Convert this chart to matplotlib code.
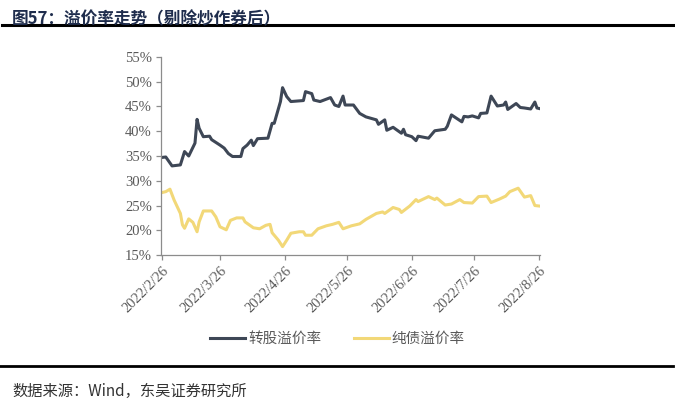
import matplotlib
matplotlib.use('Agg')
import matplotlib.pyplot as plt
from matplotlib.lines import Line2D
import pandas as pd

# 转股溢价率 (%)
conv_dates = ['02-26', '02-28', '03-03', '03-07', '03-09', '03-11', '03-14', '03-15', '03-16',
              '03-18', '03-21', '03-22', '03-26', '03-28', '03-30', '04-01', '04-05', '04-06',
              '04-08', '04-10', '04-11', '04-13', '04-18', '04-20', '04-21', '04-24', '04-25',
              '04-27', '04-29', '05-05', '05-06', '05-09', '05-10', '05-13', '05-18', '05-20',
              '05-22', '05-24', '05-25', '05-29', '06-01', '06-04', '06-09', '06-10', '06-13',
              '06-14', '06-17', '06-20', '06-21', '06-22', '06-23', '06-26', '06-28', '06-29',
              '07-04', '07-07', '07-12', '07-13', '07-15', '07-20', '07-21', '07-23', '07-25',
              '07-28', '07-29', '08-01', '08-03', '08-06', '08-09', '08-10', '08-11', '08-15',
              '08-17', '08-19', '08-22', '08-24', '08-25', '08-26']
conv_premium = [34.7, 34.8, 33.0, 33.2, 35.9, 35.0, 37.6, 42.4, 40.6,
                38.9, 39.0, 38.3, 37.2, 36.6, 35.5, 34.9, 34.9, 36.5,
                37.2, 38.2, 37.1, 38.5, 38.6, 41.6, 41.6, 46.0, 48.8,
                47.0, 46.0, 46.2, 48.0, 47.6, 46.3, 46.0, 46.8, 45.3,
                45.0, 47.1, 45.3, 45.3, 43.6, 42.9, 42.3, 41.4, 42.3,
                40.2, 40.8, 39.9, 39.6, 40.4, 39.3, 38.9, 38.1, 39.0,
                38.6, 40.1, 40.4, 41.0, 43.3, 41.9, 43.0, 42.9, 43.1,
                42.7, 43.6, 43.7, 47.1, 45.1, 45.3, 45.9, 44.4, 45.6,
                44.8, 44.7, 44.5, 45.9, 44.7, 44.6]

# 纯债溢价率 (%)
bond_dates = ['02-26', '02-28', '03-02', '03-04', '03-07', '03-08', '03-09', '03-11', '03-13',
              '03-15', '03-16', '03-18', '03-22', '03-24', '03-26', '03-29', '03-31', '04-03',
              '04-06', '04-07', '04-11', '04-14', '04-17', '04-19', '04-20', '04-23', '04-25',
              '04-27', '04-29', '05-03', '05-05', '05-06', '05-09', '05-12', '05-16', '05-19',
              '05-22', '05-24', '05-28', '06-01', '06-04', '06-09', '06-12', '06-13', '06-17',
              '06-20', '06-21', '06-25', '06-28', '06-29', '07-04', '07-07', '07-08', '07-12',
              '07-15', '07-19', '07-21', '07-25', '07-28', '08-01', '08-03', '08-07', '08-10',
              '08-12', '08-16', '08-19', '08-22', '08-24', '08-26']
bond_premium = [27.6, 27.8, 28.3, 26.1, 23.4, 21.1, 20.4, 22.3, 21.6,
                19.7, 21.7, 23.9, 23.9, 22.7, 20.7, 20.1, 22.0, 22.5,
                22.5, 21.7, 20.5, 20.3, 21.0, 21.2, 19.5, 18.0, 16.7,
                18.0, 19.4, 19.7, 19.7, 19.0, 19.0, 20.3, 20.9, 21.2,
                21.6, 20.3, 20.9, 21.3, 22.2, 23.4, 23.7, 23.4, 24.6,
                24.2, 23.6, 24.9, 26.2, 25.8, 26.8, 26.2, 26.5, 25.1,
                25.3, 26.2, 25.6, 25.5, 26.8, 26.9, 25.6, 26.3, 26.9,
                27.8, 28.5, 26.7, 27.0, 25.0, 24.9]

tick_dates = ['2022-02-26', '2022-03-26', '2022-04-26', '2022-05-26',
              '2022-06-26', '2022-07-26', '2022-08-26']
tick_labels = ['2022/2/26', '2022/3/26', '2022/4/26', '2022/5/26',
               '2022/6/26', '2022/7/26', '2022/8/26']
y_ticks = [15, 20, 25, 30, 35, 40, 45, 50, 55]

conv_x = pd.to_datetime(['2022-' + d for d in conv_dates])
bond_x = pd.to_datetime(['2022-' + d for d in bond_dates])

cjk = ['Noto Sans CJK SC', 'DejaVu Sans']
serif = 'Liberation Serif'
gray = '#595959'
dark = '#3E4756'
gold = '#F2D878'

fig = plt.figure(figsize=(6.75, 4.12), dpi=100)
ax = fig.add_axes([0.2385, 0.381, 0.561, 0.4807])

ax.plot(conv_x, conv_premium, color=dark, lw=2.2, solid_joinstyle='round')
ax.plot(bond_x, bond_premium, color=gold, lw=2.2, solid_joinstyle='round')

ax.set_ylim(15, 55)
ax.set_yticks(y_ticks)
ax.set_yticklabels([f'{v}%' for v in y_ticks], fontfamily=serif, fontsize=10.5, color=gray)

tx = pd.to_datetime(tick_dates)
ax.set_xlim(tx[0] - pd.Timedelta(days=0.3), tx[-1] + pd.Timedelta(days=0.3))
ax.set_xticks(tx)
ax.set_xticklabels(tick_labels, rotation=45, ha='right', rotation_mode='anchor',
                   fontfamily=serif, fontsize=10.5, color=gray)

for s in ['top', 'right']:
    ax.spines[s].set_visible(False)
for s in ['left', 'bottom']:
    ax.spines[s].set_color('#8C8C8C')
    ax.spines[s].set_linewidth(0.9)
ax.tick_params(axis='both', direction='out', length=3.5, width=0.9, color='#8C8C8C', pad=3)

handles = [Line2D([], [], color=dark, lw=2.2), Line2D([], [], color=gold, lw=2.2)]
fig.legend(handles, ['转股溢价率', '纯债溢价率'], loc='center', bbox_to_anchor=(0.5, 0.177),
           ncol=2, frameon=False, prop={'family': cjk, 'size': 10.5}, labelcolor=gray,
           handlelength=2.4, handletextpad=0.2, columnspacing=2.2)

fig.text(0.018, 0.975, '图57：溢价率走势（剔除炒作券后）', fontfamily=cjk, fontsize=12,
         fontweight='bold', color='#1F2D4D', va='top', ha='left')
fig.add_artist(Line2D([0.003, 0.997], [1 - 25 / 412, 1 - 25 / 412], color='black', lw=2.2))
fig.add_artist(Line2D([0.0, 0.997], [1 - 366 / 412, 1 - 366 / 412], color='black', lw=2.0))
fig.text(0.018, 1 - 391 / 412, '数据来源：Wind，东吴证券研究所', fontfamily=cjk, fontsize=11,
         color='#333333', va='center', ha='left')

fig.savefig('out.png', dpi=100)
